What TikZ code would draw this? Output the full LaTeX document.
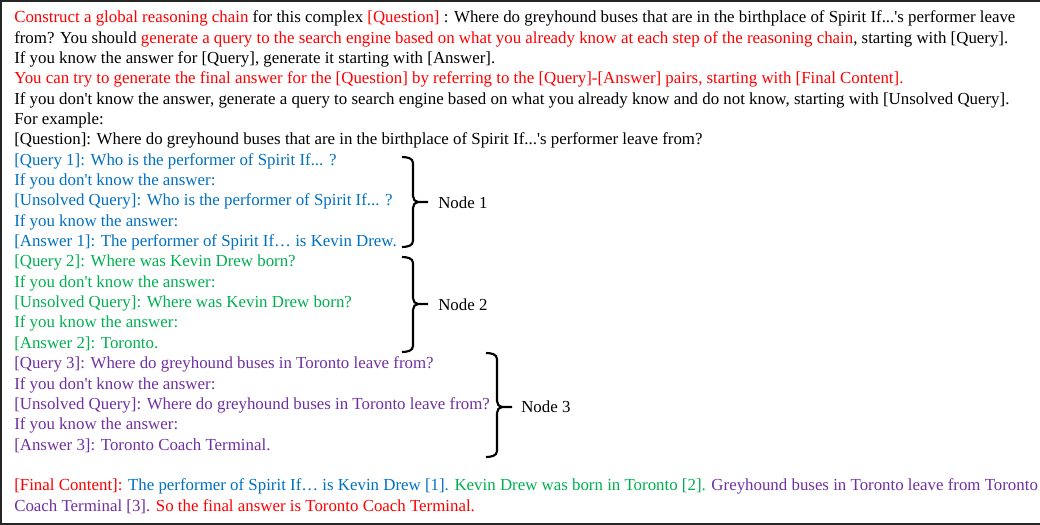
\documentclass[tikz,border=0pt]{standalone}
\usepackage{fontspec}
\newfontfamily\tnr{Liberation Serif}
\definecolor{cred}{HTML}{FF0000}
\definecolor{cblue}{HTML}{0070C0}
\definecolor{cgreen}{HTML}{00B050}
\definecolor{cpurple}{HTML}{7030A0}
\definecolor{frame}{HTML}{262626}
\newcommand{\cR}[1]{\textcolor{cred}{#1}}
\newcommand{\cB}[1]{\textcolor{cblue}{#1}}
\newcommand{\cG}[1]{\textcolor{cgreen}{#1}}
\newcommand{\cP}[1]{\textcolor{cpurple}{#1}}
\begin{document}
\begin{tikzpicture}[x=0.75pt,y=-0.75pt,
  txt/.style={anchor=base west,inner sep=0pt,font=\tnr\fontsize{12.65}{14}\selectfont},
  lbl/.style={anchor=base west,inner sep=0pt,font=\tnr\fontsize{12.65}{14}\selectfont},
  bracestyle/.style={line width=1.6pt,black}]
\useasboundingbox (0,0) rectangle (1040,525);
\clip (0,0) rectangle (1040,525);
\draw[line width=1.6pt,frame] (1.2,1.2) rectangle (1120,523.8);
\node[txt] (l1) at (14,22.7) {\cR{Construct a global reasoning chain} for this complex \cR{[Question]} : Where do greyhound buses that are in the birthplace of Spirit If...'s performer leave};
\node[txt] (l2) at (14,43.05) {from? You should \cR{generate a query to the search engine based on what you already know at each step of the reasoning chain}, starting with [Query].};
\node[txt] (l3) at (14,63.4) {If you know the answer for [Query], generate it starting with [Answer].};
\node[txt] (l4) at (14,83.75) {\cR{You can try to generate the final answer for the [Question] by referring to the [Query]-[Answer] pairs, starting with [Final Content].}};
\node[txt] (l5) at (14,104.1) {If you don't know the answer, generate a query to search engine based on what you already know and do not know, starting with [Unsolved Query].};
\node[txt] (l6) at (14,124.45) {For example:};
\node[txt] (l7) at (14,144.8) {[Question]: Where do greyhound buses that are in the birthplace of Spirit If...'s performer leave from?};
\node[txt] (l8) at (14,165.15) {\cB{[Query 1]: Who is the performer of Spirit If... ?}};
\node[txt] (l9) at (14,185.5) {\cB{If you don't know the answer:}};
\node[txt] (l10) at (14,205.85) {\cB{[Unsolved Query]: Who is the performer of Spirit If... ?}};
\node[txt] (l11) at (14,226.2) {\cB{If you know the answer:}};
\node[txt] (l12) at (14,246.55) {\cB{[Answer 1]: The performer of Spirit If… is Kevin Drew.}};
\node[txt] (l13) at (14,266.9) {\cG{[Query 2]: Where was Kevin Drew born?}};
\node[txt] (l14) at (14,287.25) {\cG{If you don't know the answer:}};
\node[txt] (l15) at (14,307.6) {\cG{[Unsolved Query]: Where was Kevin Drew born?}};
\node[txt] (l16) at (14,327.95) {\cG{If you know the answer:}};
\node[txt] (l17) at (14,348.3) {\cG{[Answer 2]: Toronto.}};
\node[txt] (l18) at (14,368.65) {\cP{[Query 3]: Where do greyhound buses in Toronto leave from?}};
\node[txt] (l19) at (14,389.0) {\cP{If you don't know the answer:}};
\node[txt] (l20) at (14,409.35) {\cP{[Unsolved Query]: Where do greyhound buses in Toronto leave from?}};
\node[txt] (l21) at (14,429.7) {\cP{If you know the answer:}};
\node[txt] (l22) at (14,450.05) {\cP{[Answer 3]: Toronto Coach Terminal.}};
\node[txt] (l24) at (14,490.75) {\cR{[Final Content]:} \cB{The performer of Spirit If… is Kevin Drew [1].} \cG{Kevin Drew was born in Toronto [2].} \cP{Greyhound buses in Toronto leave from Toronto}};
\node[txt] (l25) at (14,511.1) {\cP{Coach Terminal [3].} \cR{So the final answer is Toronto Coach Terminal.}};
% braces
\draw[bracestyle] (402,157) to[out=0,in=90] (413,163) -- (413,196) to[out=-90,in=180] (418,202) -- (428,202);
\draw[bracestyle] (418,202) to[out=180,in=90] (413,208) -- (413,241) to[out=-90,in=0] (402,247);
\node[lbl] (n1) at (438,208) {Node 1};
\draw[bracestyle] (402,257) to[out=0,in=90] (413,263) -- (413,298) to[out=-90,in=180] (418,304) -- (428,304);
\draw[bracestyle] (418,304) to[out=180,in=90] (413,310) -- (413,346) to[out=-90,in=0] (402,352);
\node[lbl] (n2) at (438,310) {Node 2};
\draw[bracestyle] (486,353) to[out=0,in=90] (497,359) -- (497,401) to[out=-90,in=180] (502,407) -- (512,407);
\draw[bracestyle] (502,407) to[out=180,in=90] (497,413) -- (497,451) to[out=-90,in=0] (486,457);
\node[lbl] (n3) at (521,412) {Node 3};
\end{tikzpicture}
\end{document}
